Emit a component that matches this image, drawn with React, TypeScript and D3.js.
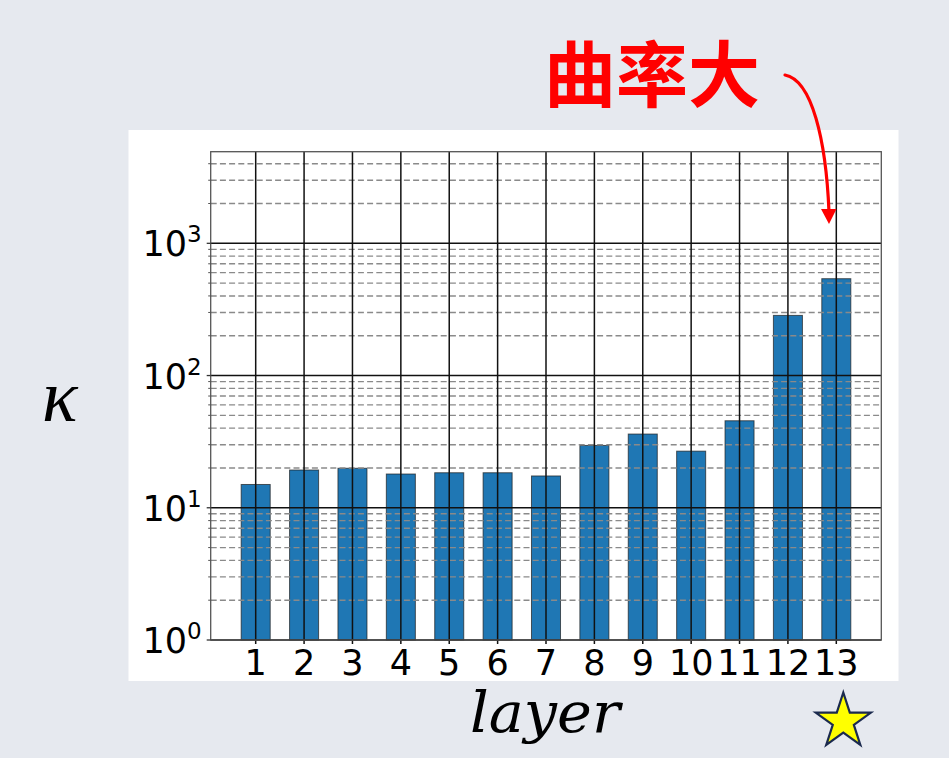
import React from "react";
import * as d3 from "d3";

// Condition number per layer
const layers = ["1", "2", "3", "4", "5", "6", "7", "8", "9", "10", "11", "12", "13"];
const kappaValues = [15, 19.3, 19.9, 18.0, 18.4, 18.4, 17.4, 29.6, 36.1, 26.8, 45.5, 285, 540];
const yMajorValues = [1, 10, 100, 1000];
const yMajorExponents = ["0", "1", "2", "3"];
const annotationText = "曲率大";
const xAxisTitle = "layer";
const yAxisTitle = "κ";

const W = 949;
const H = 758;
const plot = { left: 210.7, right: 881.3, top: 151.7, bottom: 640 };

export default function App() {
  React.useEffect(() => {
    document.body.style.margin = "0";
  }, []);

  const x = d3
    .scaleLinear()
    .domain([0.07, layers.length + 0.93])
    .range([plot.left, plot.right]);
  const y = d3
    .scaleLog()
    .domain([1, 4930])
    .range([plot.bottom, plot.top]);

  const barW = x(0.6) - x(0);
  const minorValues = y
    .ticks()
    .filter((v) => Math.abs(Math.log10(v) - Math.round(Math.log10(v))) > 1e-6)
    .filter((v) => v < 4930);

  const star = d3.symbol(d3.symbolStar, (29 * 29) / 0.8908130915292852)();

  const tickFont = "'DejaVu Sans', sans-serif";

  return (
    <svg
      width={W}
      height={H}
      style={{ position: "absolute", left: 0, top: 0, display: "block" }}
    >
      <rect x={0} y={0} width={W} height={H} fill="#e6e9ef" />
      <rect x={128.5} y={130} width={770} height={551} fill="#ffffff" />

      {/* bars */}
      {kappaValues.map((v, i) => (
        <rect
          key={"bar" + i}
          x={x(i + 1) - barW / 2}
          y={y(v)}
          width={barW}
          height={y(1) - y(v)}
          fill="#1f77b4"
          stroke="#1e1e1e"
          strokeOpacity={0.7}
          strokeWidth={1}
        />
      ))}

      {/* minor horizontal grid */}
      {minorValues.map((v) => (
        <line
          key={"mg" + v}
          x1={plot.left}
          x2={plot.right}
          y1={y(v)}
          y2={y(v)}
          stroke="#8a8a8a"
          strokeWidth={1.4}
          strokeDasharray="6 3.2"
        />
      ))}

      {/* major horizontal grid */}
      {yMajorValues.map((v) => (
        <line
          key={"Mg" + v}
          x1={plot.left}
          x2={plot.right}
          y1={y(v)}
          y2={y(v)}
          stroke="#111"
          strokeWidth={1.4}
        />
      ))}

      {/* vertical grid */}
      {layers.map((l, i) => (
        <line
          key={"vg" + l}
          x1={x(i + 1)}
          x2={x(i + 1)}
          y1={plot.top}
          y2={plot.bottom + 4}
          stroke="#111"
          strokeWidth={1.5}
        />
      ))}

      {/* frame */}
      <rect
        x={plot.left}
        y={plot.top}
        width={plot.right - plot.left}
        height={plot.bottom - plot.top}
        fill="none"
        stroke="#555"
        strokeWidth={1.3}
      />

      {/* y ticks */}
      {yMajorValues.map((v) => (
        <line
          key={"yt" + v}
          x1={plot.left - 4}
          x2={plot.left}
          y1={y(v)}
          y2={y(v)}
          stroke="#333"
          strokeWidth={1.3}
        />
      ))}
      {minorValues.map((v) => (
        <line
          key={"ymt" + v}
          x1={plot.left - 2.5}
          x2={plot.left}
          y1={y(v)}
          y2={y(v)}
          stroke="#555"
          strokeWidth={1}
        />
      ))}

      {/* y tick labels */}
      {yMajorValues.map((v, i) => (
        <text
          key={"yl" + v}
          x={plot.left - 9}
          y={y(v) + 13}
          textAnchor="end"
          fontFamily={tickFont}
          fontSize={35}
          fill="#000"
        >
          10
          <tspan fontSize={23} dy={-14}>
            {yMajorExponents[i]}
          </tspan>
        </text>
      ))}

      {/* x tick labels */}
      {layers.map((l, i) => (
        <text
          key={"xl" + l}
          x={x(i + 1)}
          y={675}
          textAnchor="middle"
          fontFamily={tickFont}
          fontSize={35}
          fill="#000"
        >
          {l}
        </text>
      ))}

      {/* axis titles */}
      <text
        x={42}
        y={421}
        fontFamily="'Liberation Serif', serif"
        fontStyle="italic"
        fontSize={74}
        fill="#000"
      >
        {yAxisTitle}
      </text>
      <text
        x={470}
        y={732}
        fontFamily="'DejaVu Serif', serif"
        fontStyle="italic"
        fontSize={56}
        textLength={150}
        lengthAdjust="spacingAndGlyphs"
        fill="#000"
      >
        {xAxisTitle}
      </text>

      {/* annotation */}
      <text
        x={544}
        y={101}
        fontFamily="'Noto Sans CJK SC', sans-serif"
        fontWeight={700}
        fontSize={72}
        fill="#ff0000"
      >
        {annotationText}
      </text>
      <path
        d="M785,75 C812,80 826,140 829,212"
        fill="none"
        stroke="#ff0000"
        strokeWidth={3.2}
        strokeLinecap="round"
      />
      <path d="M821,209 L836.5,209 L829,224 Z" fill="#ff0000" />

      {/* marker */}
      <path
        d={star ?? ""}
        transform="translate(843.3,721.5)"
        fill="#ffff00"
        stroke="#1b2a4e"
        strokeWidth={2.2}
        strokeLinejoin="miter"
      />
    </svg>
  );
}
